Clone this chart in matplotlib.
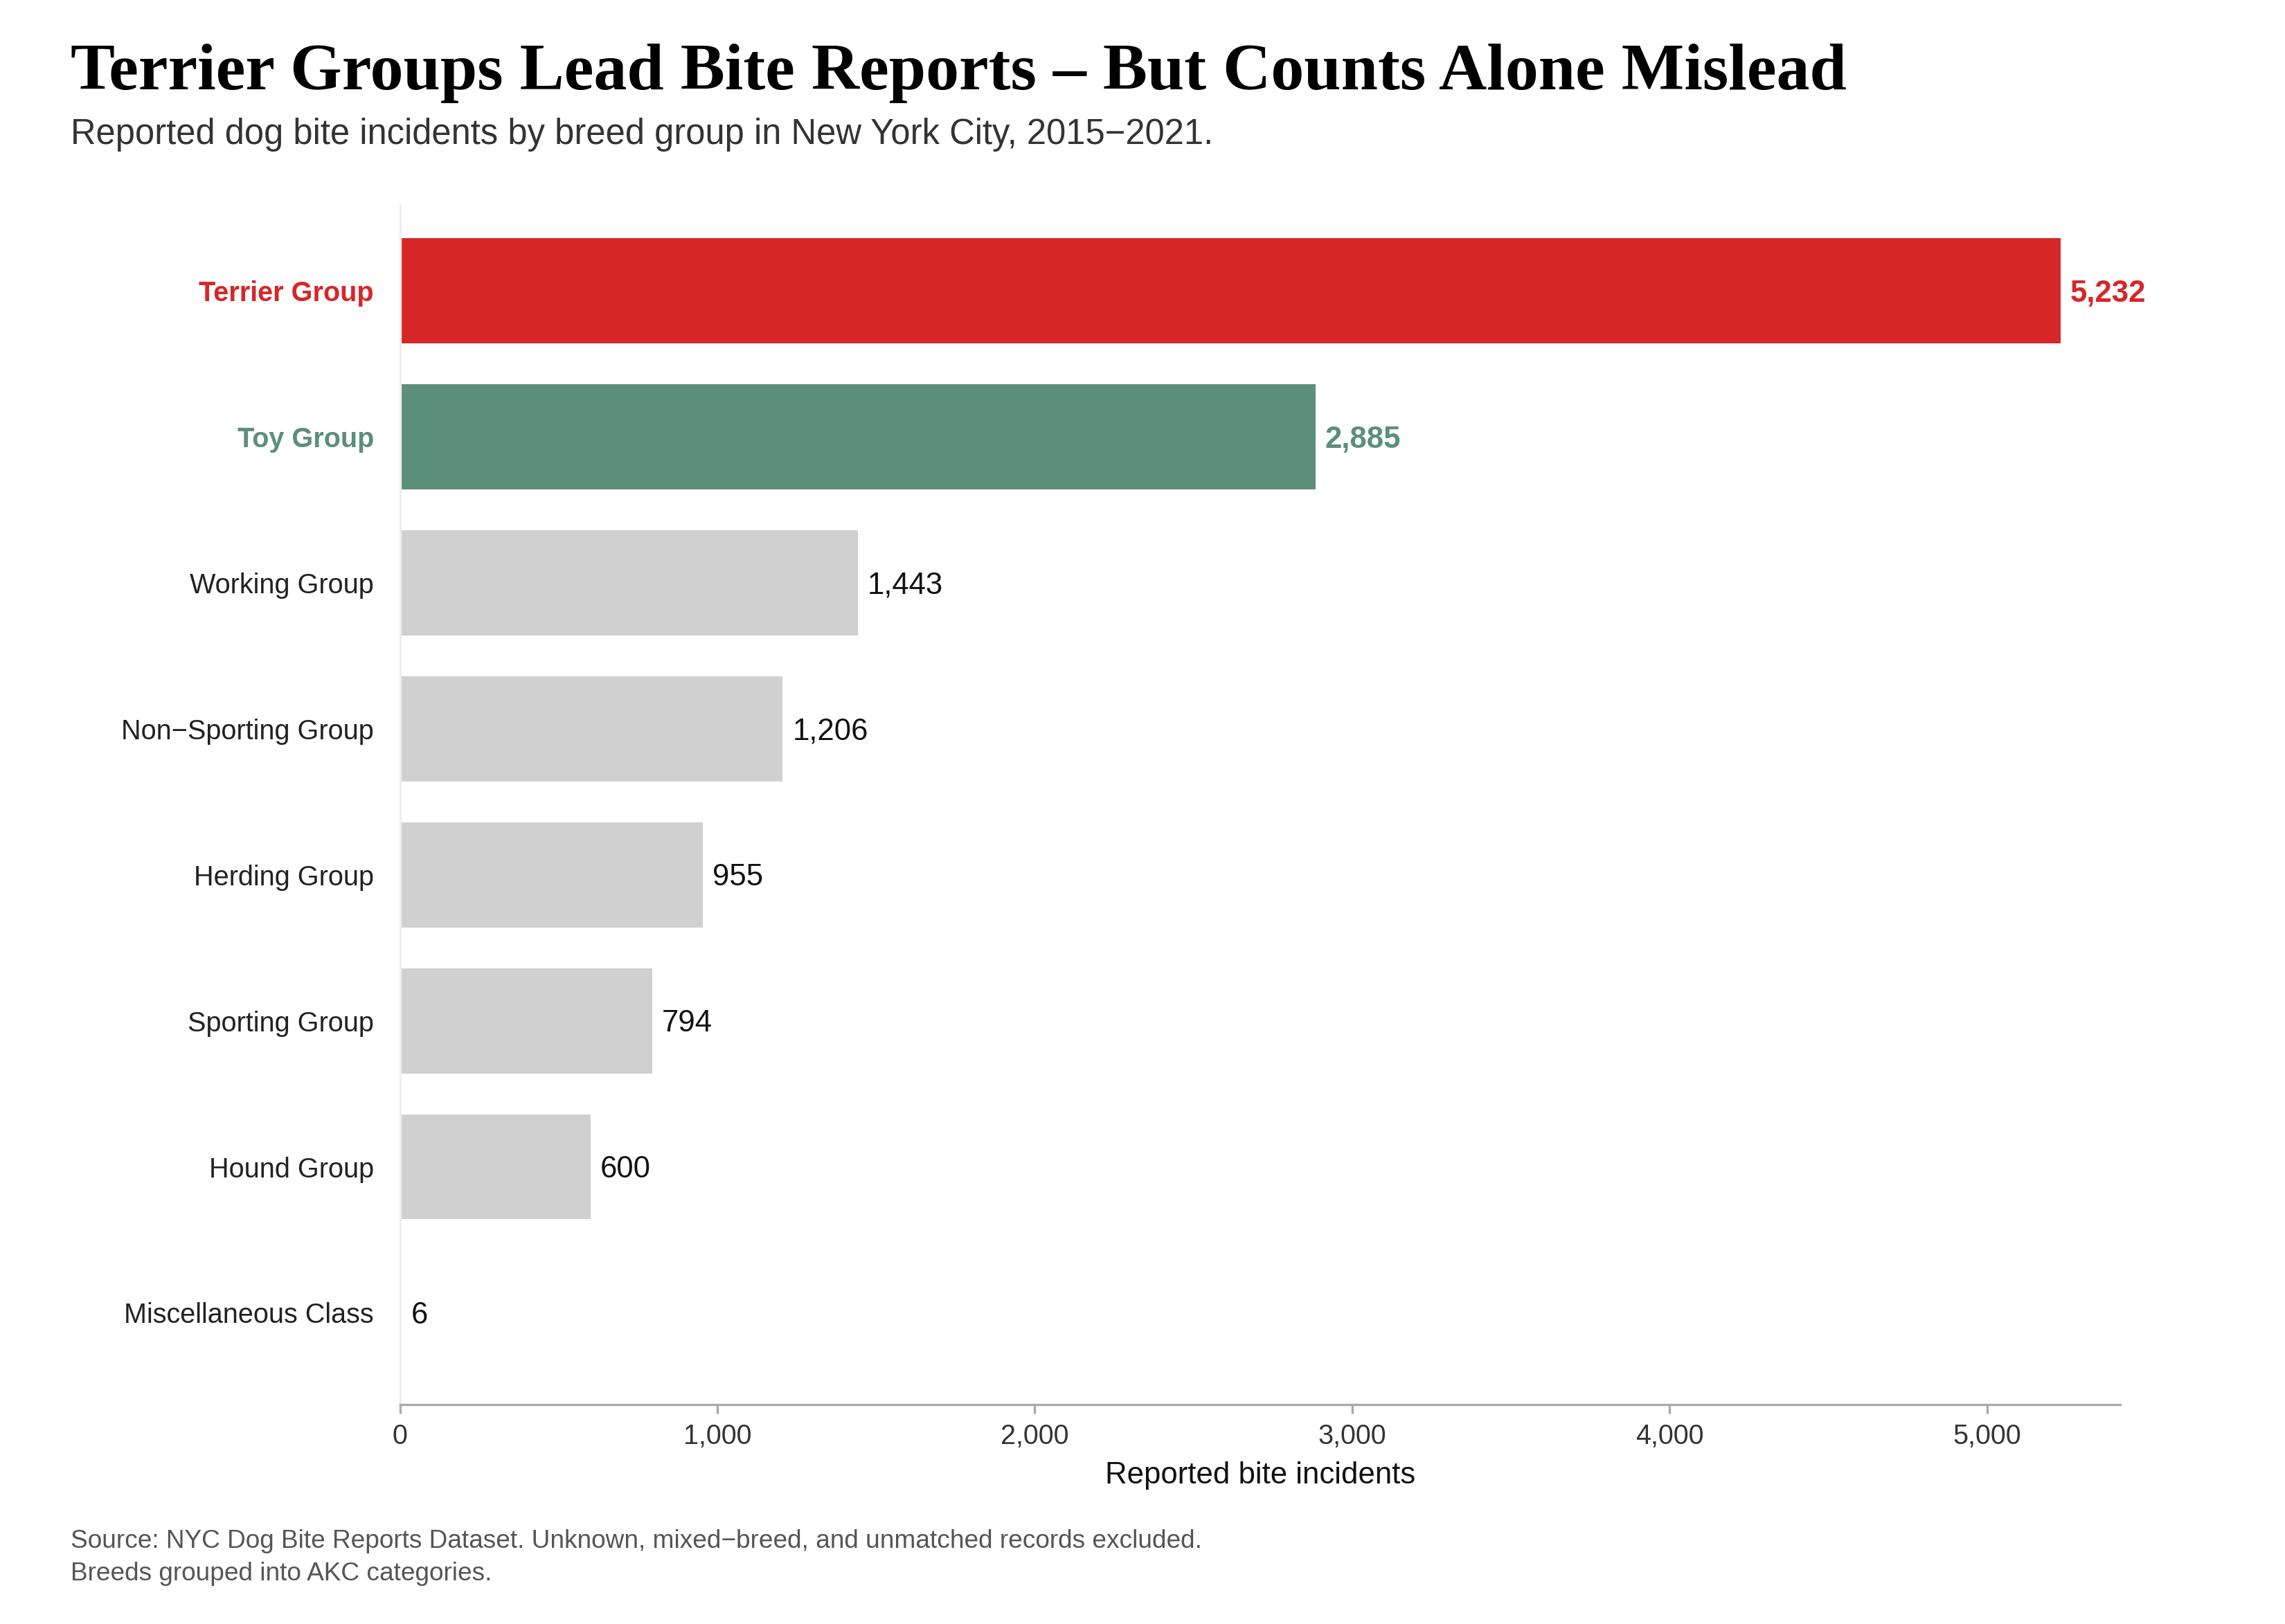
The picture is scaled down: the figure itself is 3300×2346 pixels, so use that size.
import matplotlib
matplotlib.use("Agg")
import matplotlib.pyplot as plt

groups = ["Terrier Group", "Toy Group", "Working Group", "Non\u2212Sporting Group",
          "Herding Group", "Sporting Group", "Hound Group", "Miscellaneous Class"]
counts = [5232, 2885, 1443, 1206, 955, 794, 600, 6]
colors = ["#d62728", "#5b8f7b"] + ["#d0d0d0"] * 6
label_colors = ["#d62728", "#5b8f7b"] + ["#222222"] * 6
xticks = [0, 1000, 2000, 3000, 4000, 5000]

plt.rcParams["font.family"] = ["Liberation Sans", "DejaVu Sans"]
fig = plt.figure(figsize=(11, 7.82), dpi=300)
ax = fig.add_axes([0.175, 0.135, 0.753, 0.739])
y = list(range(len(groups)))
ax.barh(y, counts, height=0.72, color=colors)
ax.set_ylim(7.63, -0.59)
ax.set_xlim(0, 5420)
ax.set_yticks(y)
ax.set_yticklabels(groups, fontsize=9.5)
for t, c, i in zip(ax.get_yticklabels(), label_colors, y):
    t.set_color(c)
    if i < 2:
        t.set_fontweight("bold")
for i, v in enumerate(counts):
    ax.text(v + 30, i + 0.02, f"{v:,}", va="center", ha="left", fontsize=10.5,
            color=label_colors[i] if i < 2 else "#111111",
            fontweight="bold" if i < 2 else "normal")
ax.set_xticks(xticks)
ax.set_xticklabels([f"{v:,}" for v in xticks], fontsize=9.5, color="#333333")
ax.tick_params(axis="y", length=0, pad=9)
ax.tick_params(axis="x", length=3, color="#aaaaaa")
ax.set_xlabel("Reported bite incidents", fontsize=10.5, color="#111111")
for s in ["top", "right"]:
    ax.spines[s].set_visible(False)
ax.spines["left"].set_color("#eeeeee")
ax.spines["bottom"].set_color("#aaaaaa")

fig.text(0.031, 0.955, "Terrier Groups Lead Bite Reports \u2013 But Counts Alone Mislead",
         fontsize=23, fontweight="bold", family=["Liberation Serif", "DejaVu Serif"],
         va="center", ha="left")
fig.text(0.031, 0.917, "Reported dog bite incidents by breed group in New York City, 2015\u22122021.",
         fontsize=12.2, color="#333333", va="center", ha="left")
fig.text(0.031, 0.051, "Source: NYC Dog Bite Reports Dataset. Unknown, mixed\u2212breed, and unmatched records excluded.",
         fontsize=8.9, color="#555555", va="center", ha="left")
fig.text(0.031, 0.031, "Breeds grouped into AKC categories.",
         fontsize=8.9, color="#555555", va="center", ha="left")
fig.savefig("out.png", dpi=300)
